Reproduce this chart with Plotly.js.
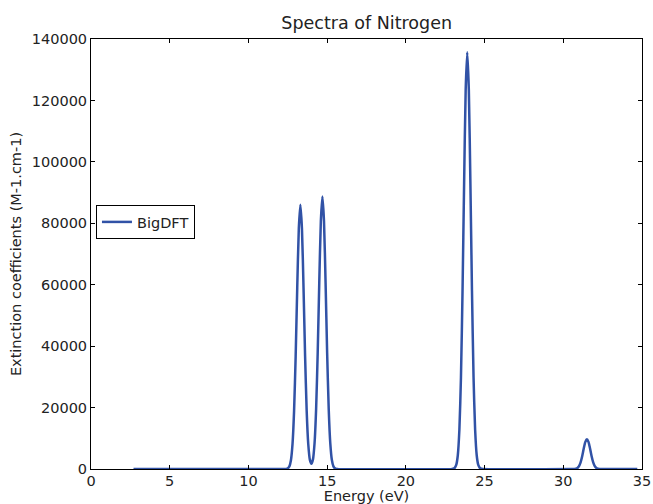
<!DOCTYPE html>
<html>
<head>
<meta charset="utf-8">
<script src="https://cdn.plot.ly/plotly-3.0.1.min.js"></script>
<style>html,body{margin:0;padding:0;background:#fff;}#chart{width:653px;height:504px;}</style>
</head>
<body>
<div id="chart"></div>
<script>
const energy = [
  2.7, 12.3,
  12.4, 12.5, 12.6, 12.7, 12.8, 12.9, 13.0, 13.1, 13.2, 13.3, 13.4, 13.5, 13.6, 13.7, 13.8, 13.9, 14.0,
  14.1, 14.2, 14.3, 14.4, 14.5, 14.6, 14.7, 14.8, 14.9, 15.0, 15.1, 15.2, 15.3, 15.4, 15.5, 15.6, 15.7,
  22.9, 23.0, 23.1, 23.2, 23.3, 23.4, 23.5, 23.6, 23.7, 23.8, 23.9, 24.0, 24.1, 24.2, 24.3, 24.4, 24.5,
  24.6, 24.7, 24.8, 24.9,
  30.5, 30.6, 30.7, 30.8, 30.9, 31.0, 31.1, 31.2, 31.3, 31.4, 31.5, 31.6, 31.7, 31.8, 31.9, 32.0, 32.1,
  32.2, 32.3, 32.4, 32.5,
  34.7
];
// Extinction coefficients (M-1.cm-1)
const extinction = [
  0, 0,
  43, 206, 834, 2838, 8084, 18920, 36720, 58910, 78260, 86000, 78260, 58910, 36720, 18930, 8130, 3050, 1690,
  3130, 8380, 19520, 37870, 60760, 80720, 88700, 80720, 60760, 37870, 19510, 8338, 2927, 860, 213, 44, 0,
  0, 68, 326, 1316, 4478, 12760, 29850, 57950, 92950, 123490, 135700, 123490, 92950, 57950, 29850, 12760, 4478,
  1316, 326, 68, 0,
  0, 5, 23, 94, 320, 912, 2134, 4142, 6645, 8827, 9700, 8827, 6645, 4142, 2134, 912, 320,
  94, 23, 5, 0,
  0
];
const seriesName = 'BigDFT';
const chartTitle = 'Spectra of Nitrogen';
const xTitle = 'Energy (eV)';
const yTitle = 'Extinction coefficients (M-1.cm-1)';

const font = 'DejaVu Sans, sans-serif';
const axisCommon = {
  showgrid: false, zeroline: false, showline: true, linecolor: '#000', linewidth: 1,
  mirror: 'ticks', ticks: 'inside', ticklen: 4, tickcolor: '#000', tickwidth: 1,
  tickfont: {family: font, size: 14.5, color: '#222'}
};

Plotly.newPlot('chart', [{
  x: energy, y: extinction, type: 'scatter', mode: 'lines', name: seriesName,
  line: {color: '#3152a6', width: 2.5, shape: 'spline', smoothing: 0.6}
}], {
  width: 653, height: 504,
  margin: {l: 91, r: 11, t: 39, b: 35},
  paper_bgcolor: '#fff', plot_bgcolor: '#fff',
  font: {family: font, color: '#222'},
  title: {text: chartTitle, font: {family: font, size: 17.5, color: '#222'}, x: 0.5615, xanchor: 'center', y: 0.955, yanchor: 'middle', xref: 'container', yref: 'container'},
  xaxis: Object.assign({}, axisCommon, {range: [0, 35], dtick: 5, tick0: 0, ticklabelstandoff: -1,
    title: {text: xTitle, font: {family: font, size: 14.5, color: '#222'}, standoff: 5}}),
  yaxis: Object.assign({}, axisCommon, {range: [0, 140000], dtick: 20000, tick0: 0, tickformat: 'd',
    title: {text: yTitle, font: {family: font, size: 14.5, color: '#222'}, standoff: 6}}),
  showlegend: true,
  legend: {x: 0.009, y: 0.614, xanchor: 'left', yanchor: 'top', bgcolor: '#fff', bordercolor: '#000', borderwidth: 1,
    font: {family: font, size: 14.5, color: '#222'}}
}, {displayModeBar: false, staticPlot: true});
</script>
</body>
</html>
